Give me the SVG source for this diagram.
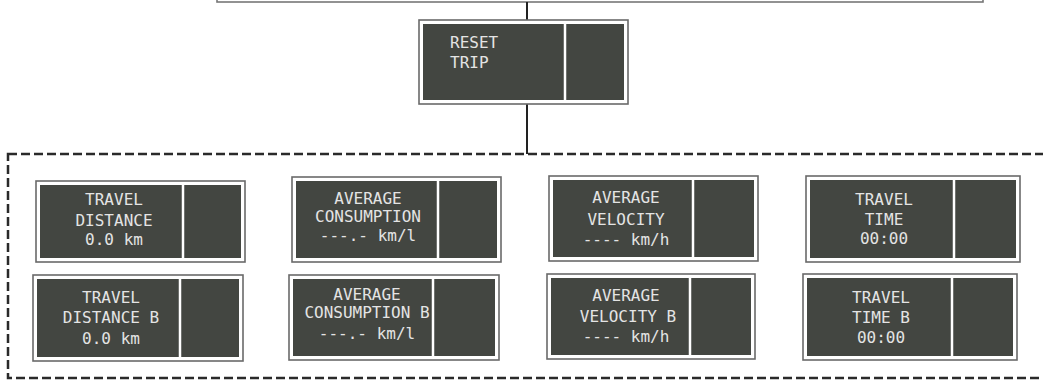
<svg xmlns="http://www.w3.org/2000/svg" width="1043" height="388" viewBox="0 0 1043 388">
<style>
.outer{fill:#ffffff;stroke:#6a6a6a;stroke-width:1.6}
.inner{fill:#434641}
.div{stroke:#ffffff;stroke-width:2.5}
.lbl{font-family:"DejaVu Sans Mono","Liberation Mono",monospace;font-size:16px;fill:#e4e4e4;text-anchor:middle}
.lblL{font-family:"DejaVu Sans Mono","Liberation Mono",monospace;font-size:16px;fill:#e4e4e4}
.conn{stroke:#222;stroke-width:2;fill:none}
.group{fill:none;stroke:#2a2a2a;stroke-width:2.5;stroke-dasharray:9 4}
.top{fill:#fff;stroke:#777;stroke-width:1.6}
</style>
<rect width="1043" height="388" fill="#ffffff"/>
<g id="top-menu"><rect class="top" x="217" y="-20" width="766" height="22"/></g>
<g id="connectors">
<line class="conn" x1="527" y1="2" x2="527" y2="20"/>
<line class="conn" x1="527" y1="104" x2="527" y2="154"/>
</g>
<g id="trip-group"><rect class="group" x="8" y="154" width="1060" height="224"/></g>
<g id="reset-trip">
<rect class="outer" x="419" y="20" width="209" height="84"/>
<rect class="inner" x="423" y="24" width="201" height="76"/>
<line class="div" x1="565" y1="24" x2="565" y2="100"/>
<text class="lblL" x="450" y="48">RESET</text>
<text class="lblL" x="450" y="68">TRIP</text>
</g>
<g id="travel-distance">
<rect class="outer" x="36" y="181" width="209" height="81"/>
<rect class="inner" x="40" y="185" width="201" height="73"/>
<line class="div" x1="183" y1="185" x2="183" y2="258"/>
<text class="lbl" x="114" y="205">TRAVEL</text>
<text class="lbl" x="114" y="226">DISTANCE</text>
<text class="lbl" x="114" y="245">0.0 km</text>
</g>
<g id="travel-distance-b">
<rect class="outer" x="33" y="275" width="210" height="86"/>
<rect class="inner" x="37" y="279" width="202" height="78"/>
<line class="div" x1="180" y1="279" x2="180" y2="357"/>
<text class="lbl" x="111" y="303">TRAVEL</text>
<text class="lbl" x="111" y="323">DISTANCE B</text>
<text class="lbl" x="111" y="344">0.0 km</text>
</g>
<g id="average-consumption">
<rect class="outer" x="292" y="177" width="209" height="85"/>
<rect class="inner" x="296" y="181" width="201" height="77"/>
<line class="div" x1="438" y1="181" x2="438" y2="258"/>
<text class="lbl" x="368" y="204">AVERAGE</text>
<text class="lbl" x="368" y="222">CONSUMPTION</text>
<text class="lbl" x="368" y="241">---.- km/l</text>
</g>
<g id="average-consumption-b">
<rect class="outer" x="289" y="275" width="210" height="85"/>
<rect class="inner" x="293" y="279" width="202" height="77"/>
<line class="div" x1="433" y1="279" x2="433" y2="356"/>
<text class="lbl" x="367" y="300">AVERAGE</text>
<text class="lbl" x="367" y="318">CONSUMPTION B</text>
<text class="lbl" x="367" y="339">---.- km/l</text>
</g>
<g id="average-velocity">
<rect class="outer" x="549" y="176" width="209" height="85"/>
<rect class="inner" x="553" y="180" width="201" height="77"/>
<line class="div" x1="693" y1="180" x2="693" y2="257"/>
<text class="lbl" x="626" y="203">AVERAGE</text>
<text class="lbl" x="626" y="225">VELOCITY</text>
<text class="lbl" x="626" y="245">---- km/h</text>
</g>
<g id="average-velocity-b">
<rect class="outer" x="547" y="274" width="208" height="85"/>
<rect class="inner" x="551" y="278" width="200" height="77"/>
<line class="div" x1="690" y1="278" x2="690" y2="355"/>
<text class="lbl" x="626" y="301">AVERAGE</text>
<text class="lbl" x="628" y="322">VELOCITY B</text>
<text class="lbl" x="626" y="342">---- km/h</text>
</g>
<g id="travel-time">
<rect class="outer" x="806" y="176" width="214" height="86"/>
<rect class="inner" x="810" y="180" width="206" height="78"/>
<line class="div" x1="954" y1="180" x2="954" y2="258"/>
<text class="lbl" x="884" y="205">TRAVEL</text>
<text class="lbl" x="884" y="225">TIME</text>
<text class="lbl" x="884" y="244">00:00</text>
</g>
<g id="travel-time-b">
<rect class="outer" x="803" y="274" width="214" height="86"/>
<rect class="inner" x="807" y="278" width="206" height="78"/>
<line class="div" x1="952" y1="278" x2="952" y2="356"/>
<text class="lbl" x="881" y="303">TRAVEL</text>
<text class="lbl" x="881" y="323">TIME B</text>
<text class="lbl" x="881" y="343">00:00</text>
</g>
</svg>
